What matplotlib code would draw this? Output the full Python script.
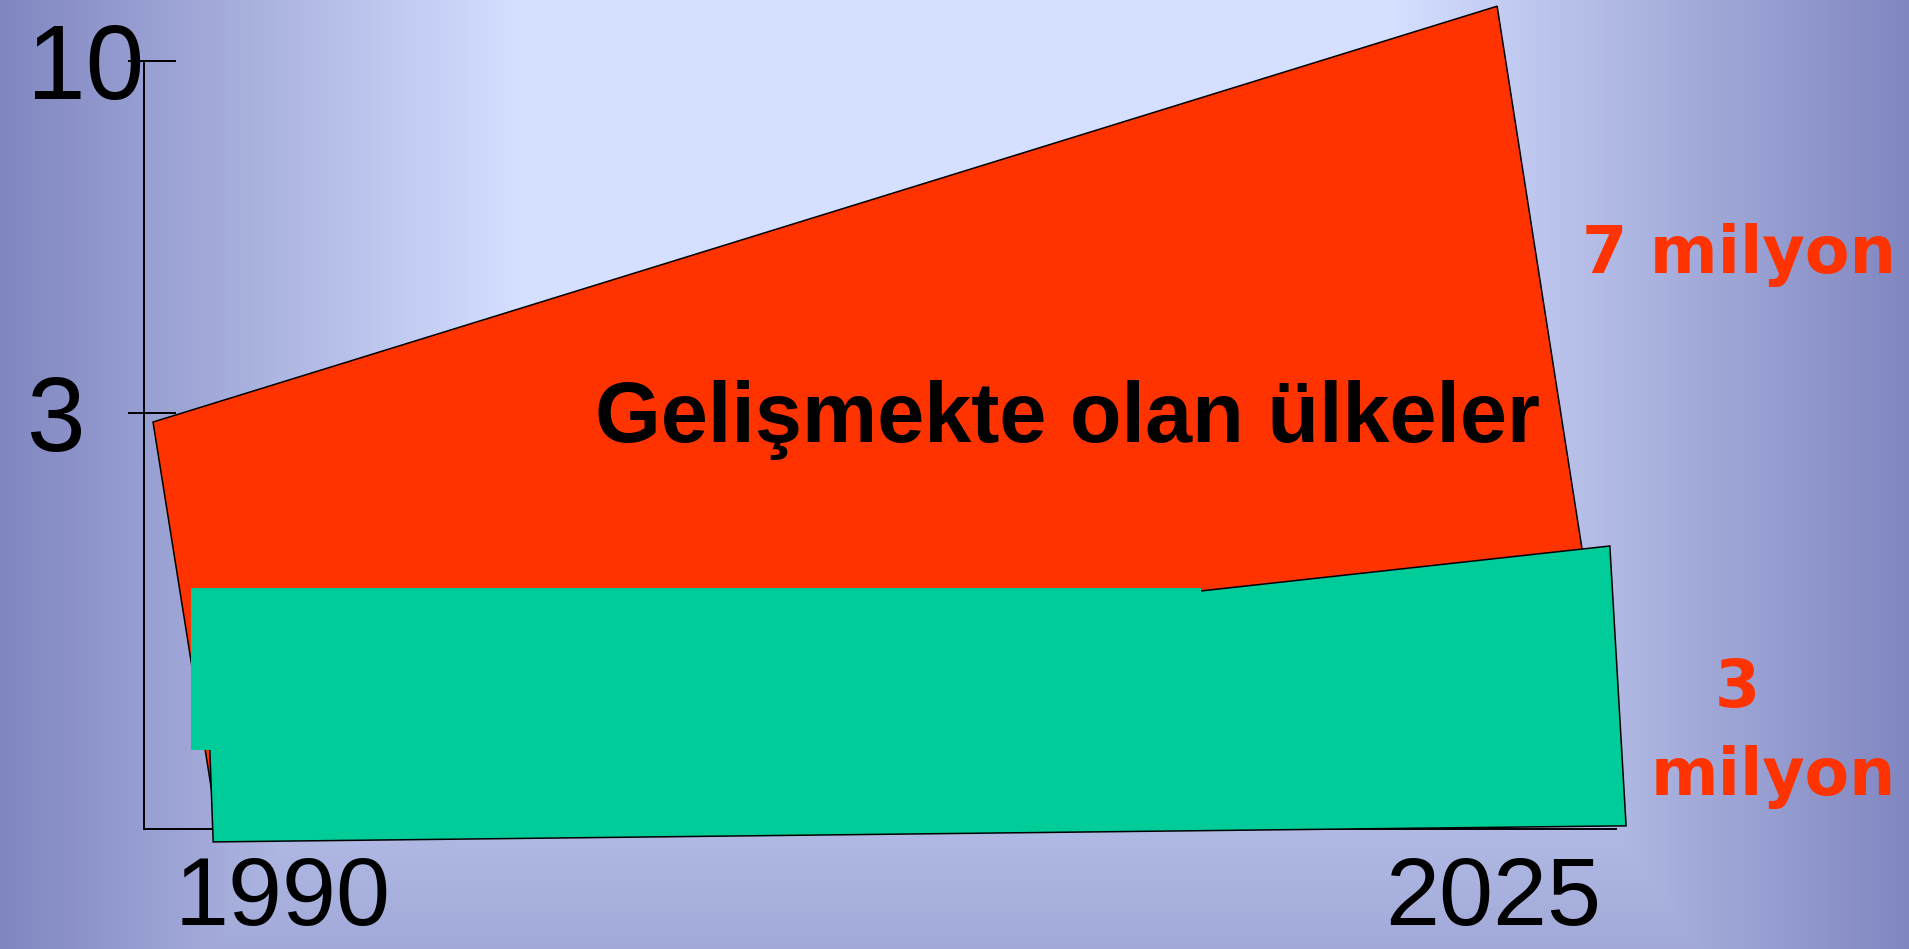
import numpy as np
import matplotlib
matplotlib.use('Agg')
import matplotlib.pyplot as plt
from matplotlib import font_manager
from matplotlib.patches import Polygon, Rectangle

# --- veriler ---
years = [1990, 2025]
year_labels = ['1990', '2025']
y_ticks = [10, 3]
y_labels = ['10', '3']

# gelişmekte olan ülkeler (kırmızı alan), köşe noktaları
red_x = [1986.24, 2025.12, 2027.57, 2028.25, 1987.98]
red_y = [2.82, 11.09, 0.32, -2.71, -4.70]

# gelişmiş ülkeler (yeşil alan)
green_x = [1987.83, 2028.38, 2028.85, 1987.98]
green_y = [-2.71, 0.355, -5.21, -5.53]

# yeşil kutu (kenarsız)
box_x = [1987.34, 2016.55]
box_y = [-3.70, -0.48]

main_label = 'Gelişmekte olan ülkeler'
top_label = '7 milyon'
bottom_label = ['3', 'milyon']

RED = '#FF3300'
GREEN = '#00CC99'

names = {f.name for f in font_manager.fontManager.ttflist}
sans = 'Liberation Sans' if 'Liberation Sans' in names else 'DejaVu Sans'
narrow = 'Liberation Sans Narrow' if 'Liberation Sans Narrow' in names else 'DejaVu Sans'

W, H = 1909, 949
fig = plt.figure(figsize=(W / 100, H / 100), dpi=100)

# arka plan gradyanı
xx, yy = np.meshgrid(np.arange(W), np.arange(H))
tx = np.maximum(np.clip((520 - xx) / 520, 0, 1), np.clip((xx - 1390) / 519, 0, 1))
ty = np.clip((yy - 520) / 430, 0, 1) * 0.6
t = np.maximum(tx, ty)
light = np.array([213, 223, 255]) / 255
dark = np.array([128, 134, 192]) / 255
img = light + (dark - light) * t[..., None]

bg = fig.add_axes([0, 0, 1, 1])
bg.imshow(img, aspect='auto', extent=[0, 1, 0, 1])
bg.set_axis_off()

# ana eksen
ax = fig.add_axes([144 / W, 120 / H, 1472 / W, 768 / H])
ax.set_xlim(1985.979, 2028.558)
ax.set_ylim(-5.273, 10)
ax.patch.set_visible(False)
ax.spines['top'].set_visible(False)
ax.spines['right'].set_visible(False)
ax.spines['left'].set_linewidth(1.4)
ax.spines['bottom'].set_linewidth(1.4)

ax.add_patch(Polygon(np.column_stack([red_x, red_y]), closed=True, facecolor=RED,
                     edgecolor='black', linewidth=1.1, zorder=3, clip_on=False))
ax.add_patch(Polygon(np.column_stack([green_x, green_y]), closed=True, facecolor=GREEN,
                     edgecolor='black', linewidth=1.1, zorder=4, clip_on=False))
ax.add_patch(Rectangle((box_x[0], box_y[0]), box_x[1] - box_x[0], box_y[1] - box_y[0],
                       facecolor=GREEN, edgecolor='none', zorder=5, clip_on=False))

# eksen işaretleri
ax.set_xticks(years, year_labels)
ax.tick_params(axis='x', length=0, pad=19)
ax.set_yticks(y_ticks, y_labels)
ax.set_yticks(y_ticks, minor=True)
ax.yaxis.remove_overlapping_locs = False
ax.tick_params(axis='y', which='major', direction='in', length=23, width=1.4, pad=84.2)
ax.tick_params(axis='y', which='minor', direction='out', length=11.5, width=1.4)
for lab in ax.get_xticklabels():
    lab.set_fontfamily(sans)
    lab.set_fontsize(70)
for lab in ax.get_yticklabels():
    lab.set_fontfamily(sans)
    lab.set_fontsize(76)
    lab.set_horizontalalignment('left')

t_main = ax.text(2012.7, 2.42, main_label, ha='center', va='baseline', fontsize=50,
                 fontweight='bold', family=sans, color='black', zorder=6, clip_on=False)
t_top = ax.text(2032.12, 5.78, top_label, ha='center', va='baseline', fontsize=40,
                fontweight='bold', family=narrow, color=RED, clip_on=False)
t_3 = ax.text(2032.06, -2.85, bottom_label[0], ha='center', va='baseline', fontsize=40,
              fontweight='bold', family=narrow, color=RED, clip_on=False)
t_m = ax.text(2033.10, -4.60, bottom_label[1], ha='center', va='baseline', fontsize=40,
              fontweight='bold', family=narrow, color=RED, clip_on=False)

# yazıları genişliğe göre ölçekle
fig.canvas.draw()
r = fig.canvas.get_renderer()


def fit(txt, width_px):
    w = txt.get_window_extent(r).width
    txt.set_fontsize(txt.get_fontsize() * width_px / w)


fit(t_main, 946)
fit(t_top, 314)
fit(t_m, 245)
t_3.set_fontsize(t_m.get_fontsize())

fig.savefig('out.png', dpi=100)
